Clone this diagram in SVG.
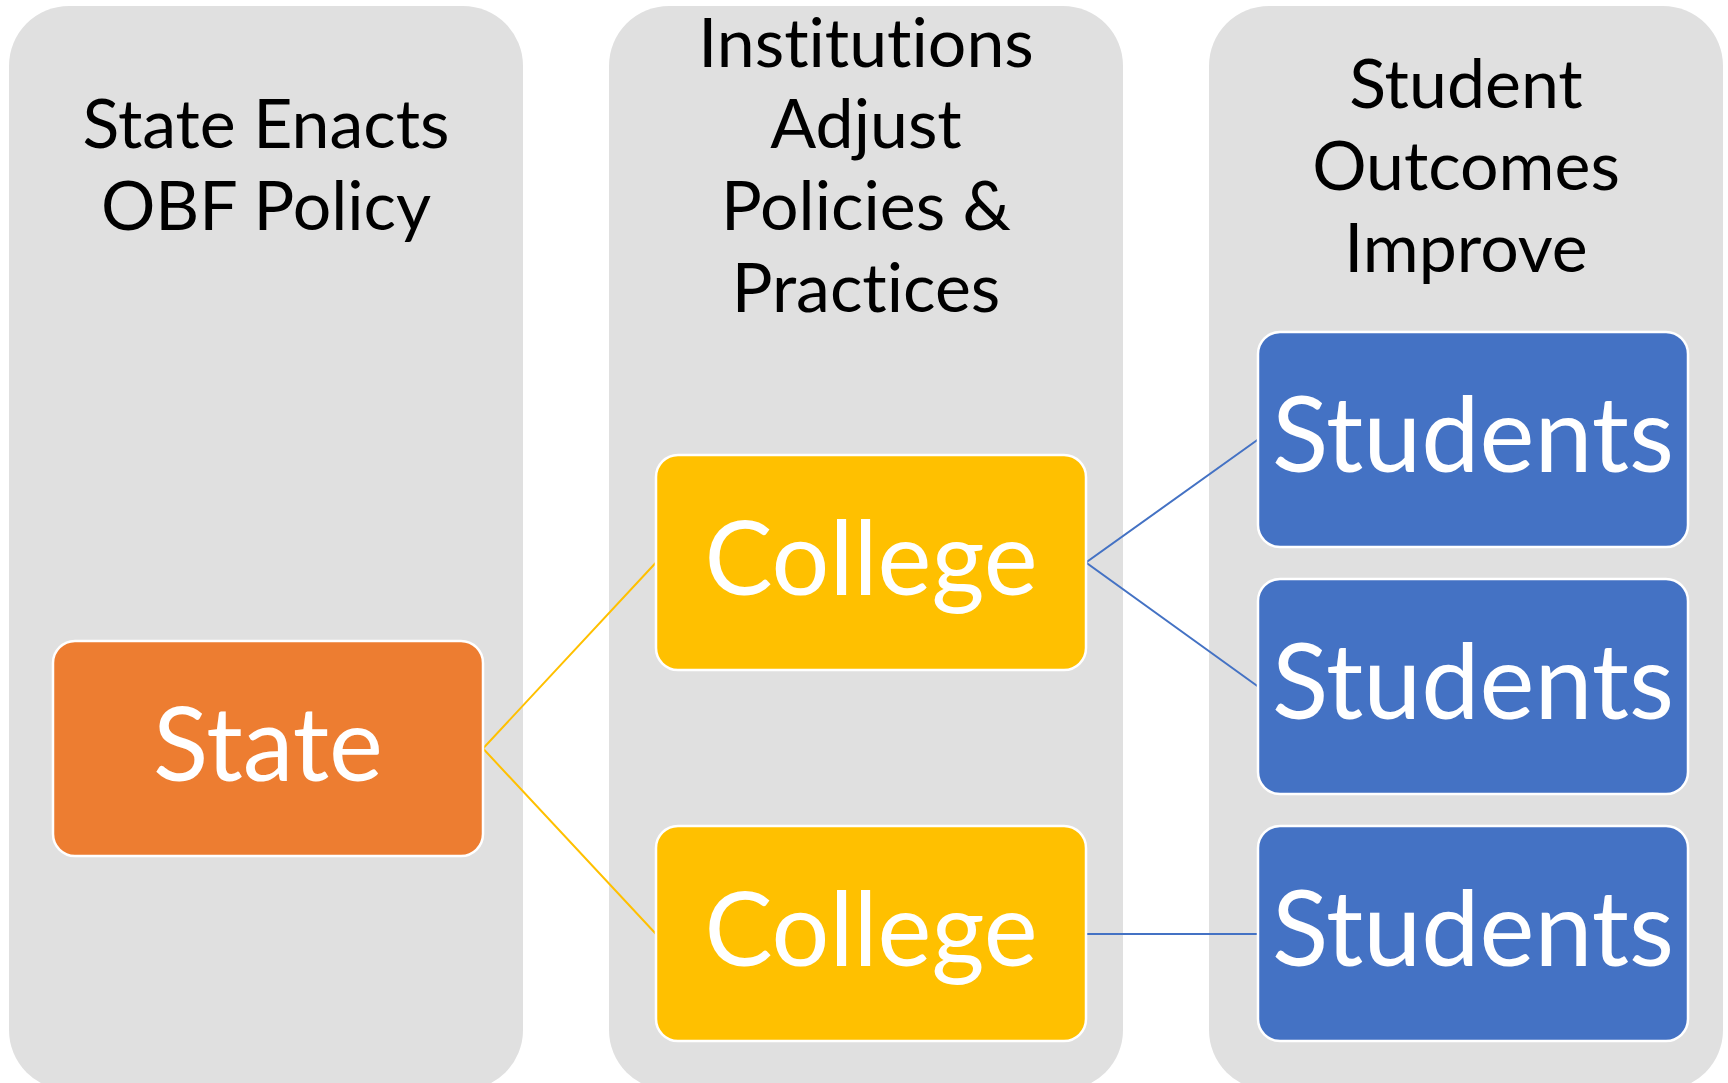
<svg xmlns="http://www.w3.org/2000/svg" width="1728" height="1083" viewBox="0 0 1728 1083">
<style>
.col{fill:#E0E0E0}
.hdr{font-family:Lato,"Open Sans","Liberation Sans",sans-serif;font-size:68px;fill:#000;text-anchor:middle;font-variant-ligatures:none;font-feature-settings:"liga" 0}
.box{stroke:#FFFFFF;stroke-width:2.5}
.lbl{font-family:Lato,"Open Sans","Liberation Sans",sans-serif;font-size:102px;fill:#FFFFFF;text-anchor:middle}
.sl{font-size:104px}
.state{fill:#ED7D31}
.college{fill:#FFC000}
.students{fill:#4472C4}
.cy{stroke:#FFC000;stroke-width:2;fill:none}
.cb{stroke:#4472C4;stroke-width:2;fill:none}
</style>
<rect width="1728" height="1083" fill="#FFFFFF"/>
<g id="col-state">
<rect class="col" x="9" y="6" width="514" height="1084" rx="60"/>
<text class="hdr" x="266" y="148">State Enacts</text>
<text class="hdr" x="266" y="230">OBF Policy</text>
</g>
<g id="col-institutions">
<rect class="col" x="609" y="6" width="514" height="1084" rx="60"/>
<text class="hdr" x="866" y="67">Institutions</text>
<text class="hdr" x="866" y="148">Adjust</text>
<text class="hdr" x="866" y="230">Policies &amp;</text>
<text class="hdr" x="866" y="312">Practices</text>
</g>
<g id="col-students">
<rect class="col" x="1209" y="6" width="514" height="1084" rx="60"/>
<text class="hdr" x="1466" y="108">Student</text>
<text class="hdr" x="1466" y="190">Outcomes</text>
<text class="hdr" x="1466" y="272">Improve</text>
</g>
<g id="connectors">
<polyline class="cy" points="656,562.5 483,748.5 656,934"/>
<polyline class="cb" points="1258,439.5 1086,562.5 1258,686.5"/>
<line class="cb" x1="1086" y1="934" x2="1258" y2="934"/>
</g>
<g id="state">
<rect class="box state" x="53" y="641" width="430" height="215" rx="22"/>
<text class="lbl" x="268" y="781">State</text>
</g>
<g id="college-1">
<rect class="box college" x="656" y="455" width="430" height="215" rx="22"/>
<text class="lbl" x="871" y="595">College</text>
</g>
<g id="college-2">
<rect class="box college" x="656" y="826" width="430" height="215" rx="22"/>
<text class="lbl" x="871" y="966">College</text>
</g>
<g id="students-1">
<rect class="box students" x="1258" y="332" width="430" height="215" rx="22"/>
<text class="lbl sl" x="1473" y="472">Students</text>
</g>
<g id="students-2">
<rect class="box students" x="1258" y="579" width="430" height="215" rx="22"/>
<text class="lbl sl" x="1473" y="719">Students</text>
</g>
<g id="students-3">
<rect class="box students" x="1258" y="826" width="430" height="215" rx="22"/>
<text class="lbl sl" x="1473" y="966">Students</text>
</g>
</svg>
